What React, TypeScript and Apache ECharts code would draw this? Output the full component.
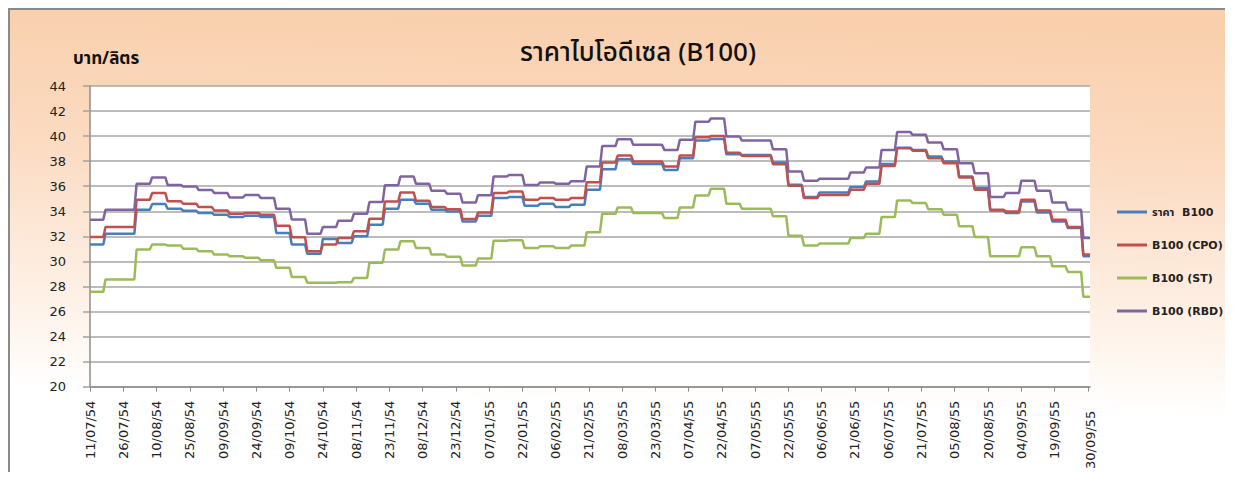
import React, { useEffect, useRef } from 'react';
import * as echarts from 'echarts';

const chartTitle = 'ราคาไบโอดีเซล (B100)';
const yAxisName = 'บาท/ลิตร';
const seriesNames = ['ราคา  B100', 'B100 (CPO)', 'B100 (ST)', 'B100 (RBD)'];
const seriesColors = ['#4A7EBB', '#C0504D', '#9BBB59', '#8064A2'];

// tick labels every 15 days from 11/07/54, plus the closing date
const tickLabels = [
  '11/07/54', '26/07/54', '10/08/54', '25/08/54', '09/09/54', '24/09/54',
  '09/10/54', '24/10/54', '08/11/54', '23/11/54', '08/12/54', '23/12/54',
  '07/01/55', '22/01/55', '06/02/55', '21/02/55', '08/03/55', '23/03/55',
  '07/04/55', '22/04/55', '07/05/55', '22/05/55', '06/06/55', '21/06/55',
  '06/07/55', '21/07/55', '05/08/55', '20/08/55', '04/09/55', '19/09/55',
  '30/09/55',
];

// weekly prices (one value per week, weeks start on Monday 11/07/54)
const weeklyB100 = [
  31.34, 32.2, 32.2, 34.12, 34.57, 34.2, 34.04, 33.86, 33.72, 33.54,
  33.64, 33.54, 32.27, 31.34, 30.6, 31.79, 31.47, 32.0, 32.93, 34.2,
  34.92, 34.6, 34.12, 33.99, 33.19, 33.64, 35.05, 35.13, 34.44, 34.6,
  34.33, 34.52, 35.71, 37.36, 38.15, 37.78, 37.78, 37.3, 38.23, 39.64,
  39.77, 38.55, 38.5, 38.5, 37.89, 36.11, 35.13, 35.5, 35.5, 35.93,
  36.38, 37.78, 39.08, 38.9, 38.37, 37.97, 36.77, 35.85, 34.07, 33.86,
  34.78, 33.91, 33.19, 32.66, 30.41,
];
const weeklyCPO = [
  31.95, 32.74, 32.74, 34.92, 35.45, 34.8, 34.6, 34.33, 34.07, 33.8,
  33.86, 33.72, 32.85, 31.92, 30.8, 31.34, 31.87, 32.4, 33.4, 34.78,
  35.5, 34.84, 34.33, 34.17, 33.38, 33.9, 35.45, 35.58, 34.92, 35.05,
  34.92, 35.05, 36.32, 37.9, 38.45, 37.97, 37.97, 37.57, 38.45, 39.9,
  40.0, 38.68, 38.42, 38.42, 37.75, 36.03, 35.05, 35.3, 35.3, 35.71,
  36.19, 37.62, 39.03, 38.84, 38.23, 37.84, 36.7, 35.71, 34.12, 33.99,
  34.92, 34.07, 33.33, 32.74, 30.54,
];
const weeklyST = [
  27.57, 28.55, 28.55, 30.94, 31.34, 31.26, 31.0, 30.8, 30.54, 30.4,
  30.28, 30.09, 29.48, 28.75, 28.29, 28.29, 28.34, 28.68, 29.88, 30.94,
  31.6, 31.07, 30.54, 30.36, 29.67, 30.22, 31.64, 31.68, 31.07, 31.2,
  31.07, 31.26, 32.32, 33.8, 34.3, 33.86, 33.86, 33.46, 34.3, 35.26,
  35.8, 34.6, 34.2, 34.2, 33.6, 32.05, 31.26, 31.42, 31.42, 31.87,
  32.2, 33.54, 34.86, 34.65, 34.17, 33.72, 32.8, 31.95, 30.4, 30.4,
  31.12, 30.4, 29.6, 29.16, 27.17,
];
const weeklyRBD = [
  33.33, 34.12, 34.12, 36.19, 36.7, 36.1, 35.98, 35.7, 35.45, 35.1,
  35.3, 35.05, 34.2, 33.35, 32.21, 32.74, 33.25, 33.8, 34.73, 36.08,
  36.77, 36.19, 35.63, 35.4, 34.7, 35.28, 36.77, 36.9, 36.1, 36.3,
  36.2, 36.4, 37.57, 39.2, 39.75, 39.3, 39.3, 38.9, 39.7, 41.15,
  41.4, 39.96, 39.64, 39.64, 38.95, 37.17, 36.43, 36.6, 36.6, 37.1,
  37.49, 38.9, 40.32, 40.1, 39.48, 38.95, 37.84, 37.04, 35.13, 35.45,
  36.43, 35.63, 34.7, 34.12, 31.87,
];

const DAY_COUNT = 452;
const DAYS_PER_PRICE = 7;
const LABEL_STEP = 15;

function toDaily(weekly: number[]): number[] {
  return Array.from({ length: DAY_COUNT }, (_, i) =>
    weekly[Math.min(Math.floor(i / DAYS_PER_PRICE), weekly.length - 1)]
  );
}

const FONT = "'DejaVu Sans', 'Noto Sans Thai', 'Noto Sans', sans-serif";
const THAI_FONT = "'Noto Sans Thai', 'Noto Sans', 'DejaVu Sans', sans-serif";

export default function App() {
  const ref = useRef<HTMLDivElement>(null);
  useEffect(() => {
    const chart = echarts.init(ref.current!, null, { renderer: 'svg' });
    const W = 1225;
    const H = 464;
    const days = Array.from({ length: DAY_COUNT }, (_, i) => String(i));
    const weekly = [weeklyB100, weeklyCPO, weeklyST, weeklyRBD];
    const isRegularLabel = (i: number) =>
      i % LABEL_STEP === 0 && i / LABEL_STEP < tickLabels.length - 1;

    chart.setOption({
      animation: false,
      graphic: [
        {
          type: 'rect',
          z: -10,
          silent: true,
          shape: { x: 0, y: 0, width: W, height: H },
          style: {
            fill: new echarts.graphic.LinearGradient(0.53, 0, 0.47, 1, [
              { offset: 0, color: '#F9CFAC' },
              { offset: 0.3, color: '#FBDAC0' },
              { offset: 0.68, color: '#FEF3EA' },
              { offset: 0.85, color: '#FFFFFF' },
              { offset: 1, color: '#FFFFFF' },
            ]),
          },
        },
        {
          type: 'line',
          z: 10,
          silent: true,
          shape: { x1: 0, y1: 1, x2: W, y2: 1 },
          style: { stroke: '#8a8a8a', lineWidth: 2 },
        },
        {
          type: 'line',
          z: 10,
          silent: true,
          shape: { x1: 1, y1: 0, x2: 1, y2: H },
          style: { stroke: '#8a8a8a', lineWidth: 2 },
        },
        {
          type: 'text',
          z: 10,
          x: 630,
          y: 45,
          style: {
            text: chartTitle,
            fill: '#111',
            font: `500 26px ${THAI_FONT}`,
            textAlign: 'center',
            textVerticalAlign: 'middle',
          },
        },
        {
          type: 'text',
          z: 10,
          x: 65,
          y: 51,
          style: {
            text: yAxisName,
            fill: '#111',
            font: `bold 17px ${THAI_FONT}`,
            textAlign: 'left',
            textVerticalAlign: 'middle',
          },
        },
      ],
      legend: {
        orient: 'vertical',
        left: 1104,
        top: 192,
        itemWidth: 30,
        itemHeight: 3,
        itemGap: 19,
        icon: 'rect',
        data: seriesNames,
        textStyle: {
          fontSize: 11,
          fontWeight: 'bold',
          color: '#222',
          lineHeight: 14,
          fontFamily: FONT,
        },
      },
      grid: {
        left: 82,
        top: 78,
        width: 1000,
        height: 301,
        show: true,
        backgroundColor: '#FFFFFF',
        borderWidth: 0,
      },
      xAxis: {
        type: 'category',
        data: days,
        boundaryGap: false,
        axisLine: { lineStyle: { color: '#8c8c8c', width: 1.5 } },
        axisTick: {
          interval: (i: number) => i % LABEL_STEP === 0,
          length: 5,
          lineStyle: { color: '#8c8c8c', width: 1 },
        },
        axisLabel: {
          interval: (i: number) => isRegularLabel(i) || i === DAY_COUNT - 1,
          formatter: (_v: string, i: number) =>
            i === DAY_COUNT - 1
              ? `{last|${tickLabels[tickLabels.length - 1]}}`
              : tickLabels[i / LABEL_STEP],
          rotate: 90,
          fontSize: 13,
          color: '#222',
          margin: 14,
          fontFamily: FONT,
          rich: {
            last: {
              fontSize: 13,
              color: '#222',
              fontFamily: FONT,
              padding: [0, 10, 0, 0],
            },
          },
        },
        splitLine: { show: false },
      },
      yAxis: {
        type: 'value',
        min: 20,
        max: 44,
        interval: 2,
        axisLine: { show: true, lineStyle: { color: '#8c8c8c', width: 1.5 } },
        axisTick: { show: true, length: 7, lineStyle: { color: '#a0a0a0', width: 1.5 } },
        splitLine: { lineStyle: { color: '#a6a6a6', width: 1.5 } },
        axisLabel: { fontSize: 13, color: '#222', margin: 24, fontFamily: FONT },
      },
      series: seriesNames.map((name, idx) => ({
        name,
        type: 'line',
        data: toDaily(weekly[idx]),
        showSymbol: false,
        symbol: 'none',
        color: seriesColors[idx],
        lineStyle: { width: 2.5, color: seriesColors[idx] },
        z: 2 + idx,
      })),
    });
    return () => chart.dispose();
  }, []);
  return <div ref={ref} style={{ width: 1225, height: 464 }} />;
}
